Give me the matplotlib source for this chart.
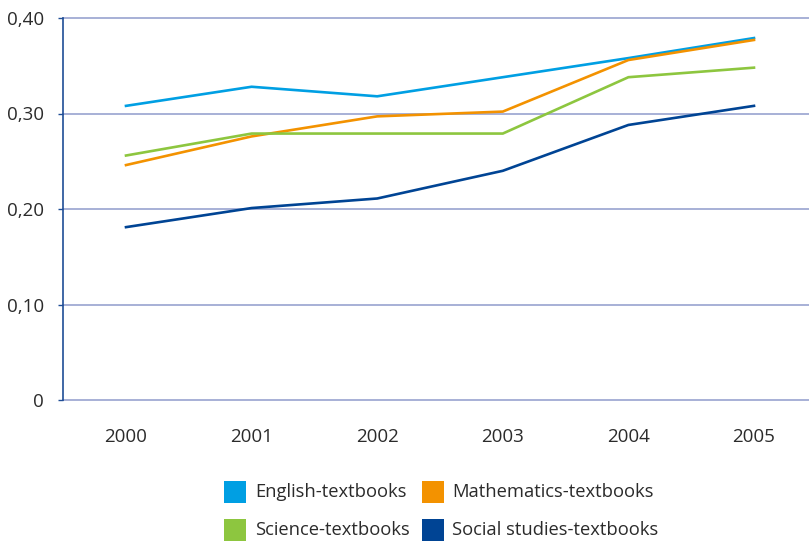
import matplotlib
matplotlib.use("Agg")
import matplotlib.pyplot as plt
from matplotlib.patches import Rectangle

years = ["2000", "2001", "2002", "2003", "2004", "2005"]
english = [0.308, 0.328, 0.318, 0.338, 0.358, 0.379]
mathematics = [0.246, 0.276, 0.297, 0.302, 0.356, 0.377]
science = [0.256, 0.279, 0.279, 0.279, 0.338, 0.348]
social = [0.181, 0.201, 0.211, 0.240, 0.288, 0.308]
series_names = ["English-textbooks", "Mathematics-textbooks",
                "Science-textbooks", "Social studies-textbooks"]
y_ticks = [0, 0.10, 0.20, 0.30, 0.40]
y_tick_labels = ["0", "0,10", "0,20", "0,30", "0,40"]

colors = ["#009fe3", "#f39200", "#8dc63f", "#004494"]
grid_color = "#8f9bcc"
spine_color = "#1f4e96"
text_color = "#2b2b2b"

plt.rcParams["font.family"] = ["Open Sans", "DejaVu Sans"]

W, H = 809, 542
fig = plt.figure(figsize=(W / 100, H / 100), dpi=100)
ax = fig.add_axes([63 / W, 1 - 400 / H, (W - 63) / W, (400 - 18) / H])

x = range(len(years))
for vals, c in zip([english, mathematics, science, social], colors):
    ax.plot(x, vals, color=c, lw=1.9, solid_joinstyle="miter", zorder=3)

ax.set_xlim(-0.5016, 5.438)
ax.set_ylim(0, 0.40)
ax.set_yticks(y_ticks)
ax.set_yticklabels(y_tick_labels)
ax.set_xticks(list(x))
ax.set_xticklabels(years)

for v in y_ticks:
    ax.axhline(v, color=grid_color, lw=1.1, zorder=1, clip_on=False)

for s in ["top", "right", "bottom"]:
    ax.spines[s].set_visible(False)
ax.spines["left"].set_color(spine_color)
ax.spines["left"].set_linewidth(1.2)
ax.spines["left"].set_zorder(2)

ax.tick_params(axis="y", length=3.6, width=1.0, color=spine_color,
               labelsize=13.5, labelcolor=text_color, pad=10)
ax.tick_params(axis="x", length=0, labelsize=13.5, labelcolor=text_color, pad=20)

# legend: two columns of square swatches with labels
rows = [492, 530]
cols = [(224, 255), (422, 452)]
sq = 22
for i, (name, c) in enumerate(zip(series_names, colors)):
    r, k = divmod(i, 2)
    cy = rows[r]
    sx, tx = cols[k]
    fig.add_artist(Rectangle((sx / W, 1 - (cy + sq / 2) / H), sq / W, sq / H,
                             transform=fig.transFigure, color=c, lw=0))
    fig.text(tx / W, 1 - cy / H, name, ha="left", va="center",
             fontsize=13.2, color=text_color)

fig.savefig("out.png", dpi=100)
